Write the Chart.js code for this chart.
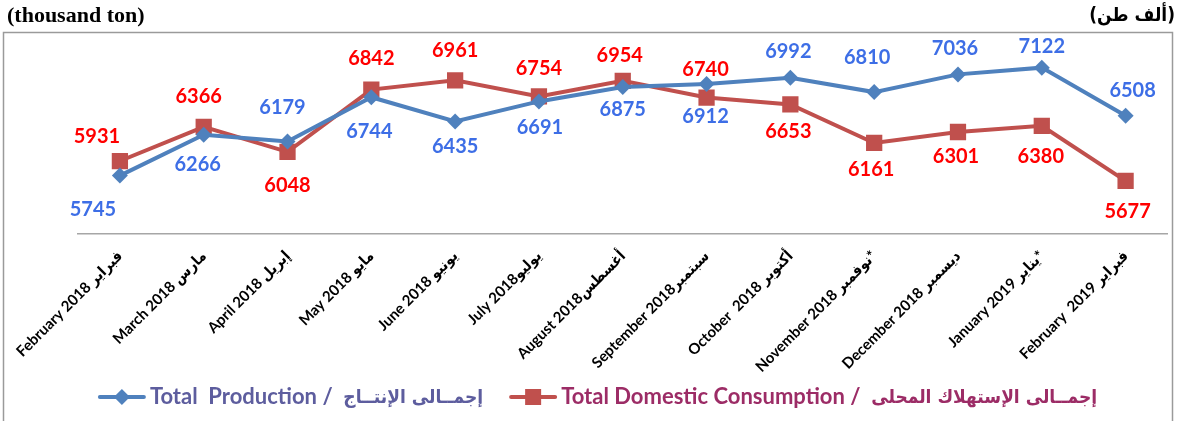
<!DOCTYPE html>
<html>
<head>
<meta charset="utf-8">
<script src="https://cdn.jsdelivr.net/npm/chart.js@4.4.1/dist/chart.umd.min.js"></script>
<style>
html,body{margin:0;padding:0;background:#fff;}
#wrap{width:1179px;height:421px;position:relative;}
</style>
</head>
<body>
<div id="wrap"><canvas id="c"></canvas></div>
<script>
const categories = [
  "February 2018 فبراير",
  "March 2018 مارس",
  "April 2018 إبريل",
  "May 2018 مايو",
  "June 2018 يونيو",
  "July 2018يوليو",
  "August 2018أغسطس",
  "September 2018سبتمبر",
  "October  2018 أكتوبر",
  "November 2018 نوفمبر*",
  "December 2018 ديسمبر",
  "January 2019 يناير*",
  "February  2019 فبراير"
];
const totalProduction = [5745, 6266, 6179, 6744, 6435, 6691, 6875, 6912, 6992, 6810, 7036, 7122, 6508];
const totalConsumption = [5931, 6366, 6048, 6842, 6961, 6754, 6954, 6740, 6653, 6161, 6301, 6380, 5677];
const seriesNamesEn = ["Total  Production /  ", "Total Domestic Consumption /  "];
const seriesNamesAr = ["إجمــالى الإنتــاج", "إجمــالى الإستهلاك المحلى"];
const unitLeft = "(thousand ton)";
const unitRight = "(ألف طن)";

// label placement (style only): offsets of value labels relative to points
const prodLabelDX = [-27, -6, -5, -2, 0, 1, 0, -1, -2, -7, -3, 0, 7];
const prodLabelDY = [34, 30, -34, 34, 25, 26, 23, 32, -26, -35, -26, -21, -25];
const consLabelDX = [-23, -5, 0, 0, 0, 0, -3, -1, -2, -3, -2, -1, 2];
const consLabelDY = [-24, -30, 34, -31, -30, -28, -25, -28, 27, 27, 25, 31, 31];

const BLUE = '#4f81bd', RED = '#c0504d';
const FONT = "Lato, 'DejaVu Sans Condensed', 'DejaVu Sans', sans-serif";
const AR_FONT = "'DejaVu Sans Condensed', 'DejaVu Sans', sans-serif";

const valueLabels = {
  id: 'valueLabels',
  afterDatasetsDraw(chart) {
    const ctx = chart.ctx;
    ctx.save();
    ctx.font = "bold 20px " + FONT;
    ctx.textAlign = 'center';
    ctx.textBaseline = 'middle';
    const cfg = [
      {ds: 0, color: '#3d6ee6', dx: prodLabelDX, dy: prodLabelDY},
      {ds: 1, color: '#ff0000', dx: consLabelDX, dy: consLabelDY}
    ];
    cfg.forEach(c => {
      const meta = chart.getDatasetMeta(c.ds);
      const vals = chart.data.datasets[c.ds].data;
      ctx.fillStyle = c.color;
      meta.data.forEach((pt, i) => {
        ctx.fillText(String(vals[i]), pt.x + c.dx[i], pt.y + c.dy[i]);
      });
    });
    ctx.restore();
  }
};

const frame = {
  id: 'frame',
  beforeDraw(chart) {
    const ctx = chart.ctx;
    ctx.save();
    ctx.strokeStyle = '#9a9a9a';
    ctx.lineWidth = 1.5;
    ctx.strokeRect(3.5, 32.5, 1169, 400);
    ctx.fillStyle = '#000';
    ctx.textBaseline = 'middle';
    ctx.font = "bold 22px 'Liberation Serif', 'DejaVu Serif', 'Times New Roman', serif";
    ctx.textAlign = 'left';
    ctx.fillText(unitLeft, 7, 16);
    ctx.font = "bold 19px " + AR_FONT;
    ctx.textAlign = 'right';
    ctx.fillText(unitRight, 1175, 16);
    ctx.restore();
  }
};

// legend: line + marker, English part then Arabic part, per dataset
const customLegend = {
  id: 'customLegend',
  afterDraw(chart) {
    const ctx = chart.ctx;
    const fontEn = "bold 22px Lato, 'DejaVu Sans', sans-serif";
    const fontAr = "bold 19px " + AR_FONT;
    const lineW = 46, gapText = 5, gapItem = 27, cy = 397, center = 598;
    const colors = ['#5d5d9e', '#9c2c66'];
    ctx.save();
    const widths = chart.data.datasets.map((d, i) => {
      ctx.font = fontEn; const we = ctx.measureText(seriesNamesEn[i]).width;
      ctx.font = fontAr; const wa = ctx.measureText(seriesNamesAr[i]).width;
      return {we, wa, total: lineW + gapText + we + wa};
    });
    const totalW = widths.reduce((s, w) => s + w.total, 0) + gapItem * (widths.length - 1);
    let x = center - totalW / 2;
    ctx.textBaseline = 'middle';
    ctx.textAlign = 'left';
    chart.data.datasets.forEach((d, i) => {
      const w = widths[i];
      ctx.strokeStyle = d.borderColor;
      ctx.lineWidth = 4;
      ctx.lineCap = 'round';
      ctx.beginPath(); ctx.moveTo(x + 1, cy); ctx.lineTo(x + lineW - 1, cy); ctx.stroke();
      ctx.fillStyle = d.borderColor;
      const mx = x + lineW / 2;
      if (d.pointStyle === 'rectRot') {
        ctx.beginPath(); ctx.moveTo(mx, cy - 8); ctx.lineTo(mx + 8, cy); ctx.lineTo(mx, cy + 8); ctx.lineTo(mx - 8, cy); ctx.closePath(); ctx.fill();
      } else {
        ctx.fillRect(mx - 8, cy - 8, 16, 16);
      }
      let tx = x + lineW + gapText;
      ctx.fillStyle = colors[i];
      ctx.font = fontEn;
      ctx.fillText(seriesNamesEn[i], tx, cy);
      tx += w.we;
      ctx.font = fontAr;
      ctx.fillText(seriesNamesAr[i], tx, cy + 1);
      x += w.total + gapItem;
    });
    ctx.restore();
  }
};

new Chart(document.getElementById('c'), {
  type: 'line',
  data: {
    labels: categories,
    datasets: [
      {
        label: seriesNamesEn[0] + seriesNamesAr[0],
        data: totalProduction,
        borderColor: BLUE,
        backgroundColor: BLUE,
        borderWidth: 4,
        pointStyle: 'rectRot',
        pointRadius: 8,
        pointBorderWidth: 0,
        tension: 0
      },
      {
        label: seriesNamesEn[1] + seriesNamesAr[1],
        data: totalConsumption,
        borderColor: RED,
        backgroundColor: RED,
        borderWidth: 4,
        pointStyle: 'rect',
        pointRadius: 11.5,
        pointBorderWidth: 0,
        tension: 0
      }
    ]
  },
  options: {
    responsive: true,
    maintainAspectRatio: false,
    animation: false,
    layout: {padding: {top: 38, left: 78, right: 5, bottom: 0}},
    scales: {
      x: {
        offset: true,
        grid: {display: false, drawTicks: false},
        border: {display: true, color: '#a6a6a6', width: 1.5},
        ticks: {
          color: '#000',
          font: {family: FONT, size: 15, weight: 'bold'},
          maxRotation: 45,
          minRotation: 45,
          autoSkip: false,
          padding: 13
        },
        afterFit(s) { s.height = 187; }
      },
      y: {
        display: false,
        min: 5000,
        max: 7500
      }
    },
    plugins: {
      tooltip: {enabled: false},
      legend: {display: false}
    }
  },
  plugins: [frame, valueLabels, customLegend]
});
</script>
</body>
</html>
